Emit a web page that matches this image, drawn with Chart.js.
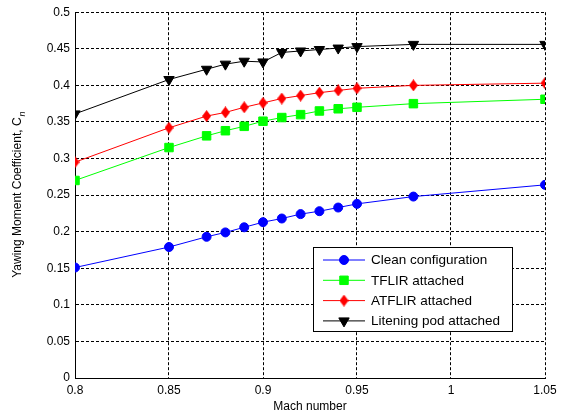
<!DOCTYPE html>
<html>
<head>
<meta charset="utf-8">
<script src="https://cdn.jsdelivr.net/npm/chart.js@4/dist/chart.umd.min.js"></script>
<style>
  html, body { margin: 0; padding: 0; background: #fff; }
  #wrap { width: 563px; height: 418px; }
</style>
</head>
<body>
<div id="wrap"><canvas id="c" width="563" height="418"></canvas></div>
<script>
// valori
const machNumbers = [0.8, 0.85, 0.87, 0.88, 0.89, 0.9, 0.91, 0.92, 0.93, 0.94, 0.95, 0.98, 1.05];
const cleanCn     = [0.151, 0.179, 0.193, 0.199, 0.206, 0.213, 0.218, 0.224, 0.228, 0.233, 0.238, 0.248, 0.264];
const tflirCn     = [0.270, 0.315, 0.331, 0.338, 0.344, 0.351, 0.356, 0.360, 0.365, 0.368, 0.370, 0.375, 0.381];
const atflirCn    = [0.295, 0.342, 0.358, 0.363, 0.370, 0.376, 0.382, 0.386, 0.390, 0.393, 0.396, 0.400, 0.403];
const liteningCn  = [0.361, 0.408, 0.422, 0.429, 0.433, 0.432, 0.445, 0.447, 0.449, 0.451, 0.453, 0.456, 0.456];
const seriesNames = ['Clean configuration', 'TFLIR attached', 'ATFLIR attached', 'Litening pod attached'];
const xTicks = [0.8, 0.85, 0.9, 0.95, 1, 1.05];
const yTicks = [0, 0.05, 0.1, 0.15, 0.2, 0.25, 0.3, 0.35, 0.4, 0.45, 0.5];

const FONT = '"Liberation Sans", Arial, sans-serif';

// diamante più alto che largo, come nel marker di MATLAB
const diamond = (() => {
  const cv = document.createElement('canvas');
  cv.width = 9; cv.height = 12;
  const g = cv.getContext('2d');
  g.fillStyle = '#ff0000';
  g.beginPath(); g.moveTo(4.5, 0); g.lineTo(9, 6); g.lineTo(4.5, 12); g.lineTo(0, 6); g.closePath(); g.fill();
  return cv;
})();

const pts = ys => machNumbers.map((x, i) => ({ x, y: ys[i] }));
const ds = [
  { label: seriesNames[0], data: pts(cleanCn),    borderColor: '#0000ff', backgroundColor: '#0000ff', pointStyle: 'circle',   pointRadius: 4.5, rotation: 0 },
  { label: seriesNames[1], data: pts(tflirCn),    borderColor: '#00ff00', backgroundColor: '#00ff00', pointStyle: 'rect',     pointRadius: 6,   rotation: 0 },
  { label: seriesNames[2], data: pts(atflirCn),   borderColor: '#ff0000', backgroundColor: '#ff0000', pointStyle: diamond,    pointRadius: 6,   rotation: 0 },
  { label: seriesNames[3], data: pts(liteningCn), borderColor: '#000000', backgroundColor: '#000000', pointStyle: 'triangle', pointRadius: 6,   rotation: 180 },
].map(d => ({ ...d, showLine: true, borderWidth: 1, pointBorderWidth: 1, pointHoverRadius: d.pointRadius, pointRotation: d.rotation }));

const fmt = v => String(Number(v.toFixed(2)));

const titles = {
  id: 'titles',
  afterDraw(chart) {
    const { ctx, chartArea: a } = chart;
    ctx.save();
    ctx.fillStyle = '#000';
    ctx.font = '12px ' + FONT;
    ctx.textAlign = 'center';
    ctx.textBaseline = 'middle';
    ctx.fillText('Mach number', (a.left + a.right) / 2, 407);

    // titolo asse y con pedice corsivo
    const main = 'Yawing Moment Coefficient, C';
    ctx.translate(18, (a.top + a.bottom) / 2);
    ctx.rotate(-Math.PI / 2);
    const w = ctx.measureText(main).width;
    ctx.font = 'italic 9px ' + FONT;
    const ws = ctx.measureText('n').width;
    const x0 = -(w + ws) / 2;
    ctx.font = '12px ' + FONT;
    ctx.textAlign = 'left';
    ctx.fillText(main, x0, 0);
    ctx.font = 'italic 9px ' + FONT;
    ctx.fillText('n', x0 + w + 1, 4);
    ctx.restore();
  }
};

const legendBox = {
  id: 'legendBox',
  afterDraw(chart) {
    const { ctx } = chart;
    const L = 313, T = 247, W = 199, H = 84;
    ctx.save();
    ctx.fillStyle = '#fff';
    ctx.fillRect(L, T, W, H);
    ctx.strokeStyle = '#000';
    ctx.lineWidth = 1;
    ctx.strokeRect(L + 0.5, T + 0.5, W, H);
    ctx.font = '13.5px ' + FONT;
    ctx.textBaseline = 'middle';
    ds.forEach((d, i) => {
      const y = T + 13 + i * 20.3;
      ctx.strokeStyle = d.borderColor;
      ctx.beginPath(); ctx.moveTo(323, y); ctx.lineTo(365, y); ctx.stroke();
      ctx.fillStyle = d.backgroundColor;
      ctx.strokeStyle = d.borderColor;
      Chart.helpers.drawPoint(ctx, { pointStyle: d.pointStyle, radius: d.pointRadius, rotation: d.rotation, borderWidth: 1 }, 344, y);
      ctx.fillStyle = '#000';
      ctx.fillText(d.label, 371, y + 0.5);
    });
    ctx.restore();
  }
};

new Chart(document.getElementById('c'), {
  type: 'scatter',
  data: { datasets: ds },
  options: {
    responsive: false,
    animation: false,
    events: [],
    layout: { padding: { left: 0, top: 12, right: 18, bottom: 0 } },
    plugins: { legend: { display: false }, tooltip: { enabled: false } },
    scales: {
      x: {
        type: 'linear', min: 0.8, max: 1.05,
        afterBuildTicks: s => { s.ticks = xTicks.map(value => ({ value })); },
        afterFit: s => { s.height = 40; },
        ticks: { callback: fmt, color: '#000', font: { family: FONT, size: 12 }, padding: 5, maxRotation: 0 },
        grid: { color: '#000', drawTicks: false, lineWidth: 1 },
        border: { display: true, color: '#000', width: 1, dash: [3, 2] }
      },
      y: {
        type: 'linear', min: 0, max: 0.5,
        afterBuildTicks: s => { s.ticks = yTicks.map(value => ({ value })); },
        afterFit: s => { s.width = 75; },
        ticks: { callback: fmt, color: '#000', font: { family: FONT, size: 12 }, padding: 5 },
        grid: { color: '#000', drawTicks: false, lineWidth: 1 },
        border: { display: true, color: '#000', width: 1, dash: [3, 2] }
      }
    }
  },
  plugins: [titles, legendBox]
});
</script>
</body>
</html>
